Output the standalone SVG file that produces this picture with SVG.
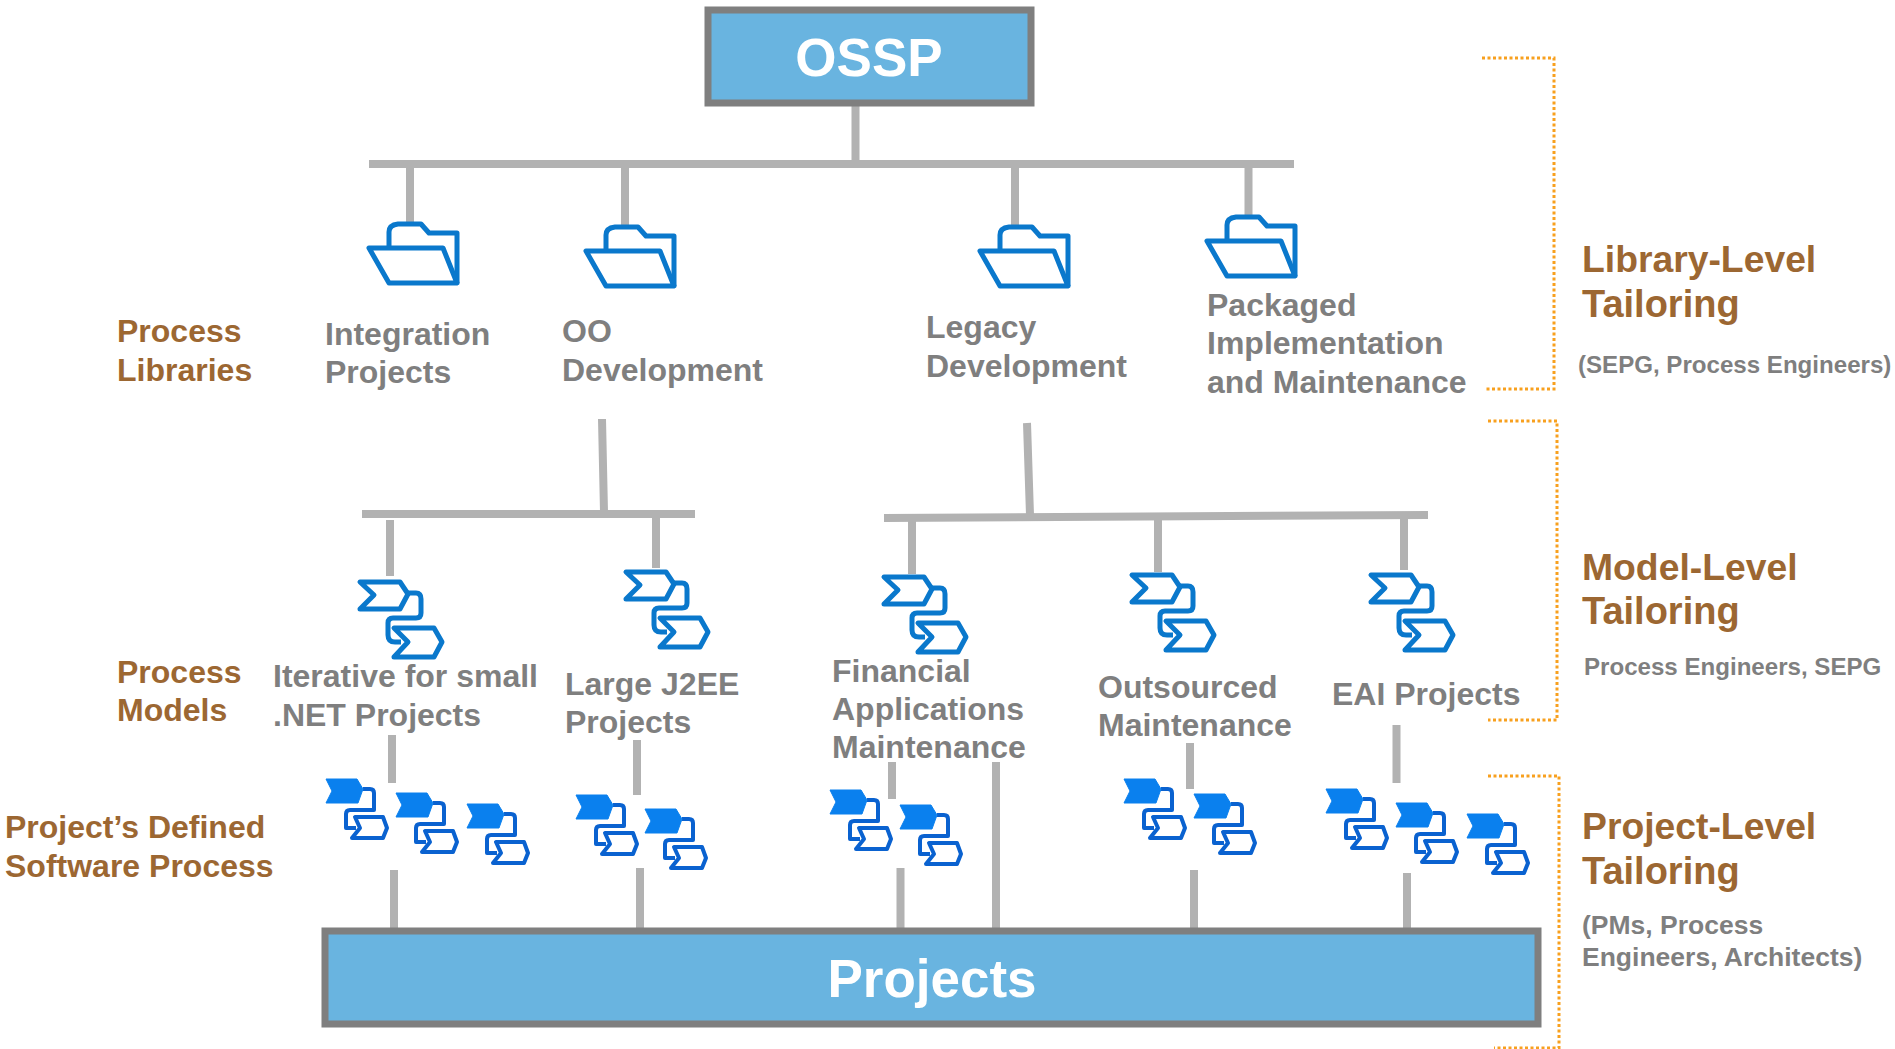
<svg xmlns="http://www.w3.org/2000/svg" xmlns:xlink="http://www.w3.org/1999/xlink" width="1895" height="1049" viewBox="0 0 1895 1049">
<style>
text{font-family:"Liberation Sans",Arial,sans-serif;font-weight:700}
.g{font-size:32px;fill:#7f7f7f}
.b{font-size:32px;fill:#9c6732}
.t{font-size:37.3px;fill:#9c6732}
.t2{font-size:38px;fill:#9c6732}
.s{font-size:24.1px;fill:#7f7f7f}
.s2{font-size:26.5px;fill:#7f7f7f}
.w{font-size:53px;fill:#fff;text-anchor:middle}
.box{fill:#69b4e0;stroke:#7f7f7f;stroke-width:7}
.c{stroke:#b2b2b2;stroke-width:8;fill:none}
.d{stroke:#f8a01e;stroke-width:3;stroke-dasharray:3 2.5;fill:none}
.i{fill:#fff;stroke:#0a78cc;stroke-width:5;stroke-linejoin:round}
.n{fill:none;stroke:#0a78cc;stroke-width:5;stroke-linejoin:round}
.j{fill:#fff;stroke:#0a62d0;stroke-width:4;stroke-linejoin:round}
.m{fill:none;stroke:#0a62d0;stroke-width:4;stroke-linejoin:round}
.f{fill:#0a80ee;stroke:#0a80ee;stroke-width:1}
</style>
<defs>
<g id="folder">
<path class="n" d="M20 25V9Q20 2 29 1H52L60 10H88V60"/>
<path class="i" d="M0 25H74L88 60H20Z"/>
</g>
<g id="proc">
<path class="n" d="M48 12H56Q61 12 61 18V32Q61 37 56 37H33Q28 37 28 42V54Q28 61 35 61H41"/>
<path class="i" d="M0 1H40L48 13L40 28H0L14 14Z"/>
<path class="i" d="M34 47H74L82 61L74 76H34L48 61Z"/>
</g>
<g id="small">
<path class="m" d="M37 10H44Q48 10 48 14V31H24Q20 31 20 35V49H30"/>
<path class="f" d="M0 0H31L37 10L32 24H0L6 12Z"/>
<path class="j" d="M29 38H57L61 49L57 59H26L34 49Z"/>
</g>
</defs>
<g id="connectors">
<path class="c" d="M855.5 105V164M369 164H1294M410 164V223M625 164V226M1015 164V226M1248.500 164V216"/>
<path class="c" d="M602 419L604 512M1027 423L1030 515M362 514H695M884 518L1428 515"/>
<path class="c" d="M390 520V576M656 514V568M912 518V574M1158 517V572M1404 516V570"/>
<path class="c" d="M392 735V783M637 740V795M892 762V799M1190 743V789M1396.500 725V783"/>
<path class="c" d="M394 870V928M640 868V928M900.500 868V928M996 762V928M1194 870V928M1407 873V928"/>
</g>
<g id="brackets">
<path class="d" d="M1482 58H1554V389H1484"/>
<path class="d" d="M1488 421H1557V720H1488"/>
<path class="d" d="M1488 776H1559V1048H1494"/>
</g>
<g id="ossp"><rect class="box" x="708" y="10" width="323" height="93"/><text class="w" x="869" y="76">OSSP</text></g>
<g id="projects"><rect class="box" x="325" y="931" width="1213" height="93"/><text class="w" x="932" y="997">Projects</text></g>
<g id="lib-integration"><use xlink:href="#folder" href="#folder" x="369" y="223"/><text class="g" x="325" y="345">Integration</text><text class="g" x="325" y="383">Projects</text></g>
<g id="lib-oo"><use xlink:href="#folder" href="#folder" x="586" y="226"/><text class="g" x="562" y="342">OO</text><text class="g" x="562" y="381">Development</text></g>
<g id="lib-legacy"><use xlink:href="#folder" href="#folder" x="980" y="226"/><text class="g" x="926" y="338">Legacy</text><text class="g" x="926" y="377">Development</text></g>
<g id="lib-packaged"><use xlink:href="#folder" href="#folder" x="1207" y="216"/><text class="g" x="1207" y="316">Packaged</text><text class="g" x="1207" y="354">Implementation</text><text class="g" x="1207" y="393">and Maintenance</text></g>
<g id="model-iterative"><use xlink:href="#proc" href="#proc" x="360" y="581"/><text class="g" x="273" y="687">Iterative for small</text><text class="g" x="273" y="726">.NET Projects</text></g>
<g id="model-j2ee"><use xlink:href="#proc" href="#proc" x="626" y="571"/><text class="g" x="565" y="695">Large J2EE</text><text class="g" x="565" y="733">Projects</text></g>
<g id="model-financial"><use xlink:href="#proc" href="#proc" x="884" y="576"/><text class="g" x="832" y="682">Financial</text><text class="g" x="832" y="720">Applications</text><text class="g" x="832" y="758">Maintenance</text></g>
<g id="model-outsourced"><use xlink:href="#proc" href="#proc" x="1132" y="574"/><text class="g" x="1098" y="698">Outsourced</text><text class="g" x="1098" y="736">Maintenance</text></g>
<g id="model-eai"><use xlink:href="#proc" href="#proc" x="1371" y="574"/><text class="g" x="1332" y="705">EAI Projects</text></g>
<g id="proj-1"><use xlink:href="#small" href="#small" x="326" y="779"/><use xlink:href="#small" href="#small" x="396" y="793"/><use xlink:href="#small" href="#small" x="467" y="804"/></g>
<g id="proj-2"><use xlink:href="#small" href="#small" x="576" y="795"/><use xlink:href="#small" href="#small" x="645" y="809"/></g>
<g id="proj-3"><use xlink:href="#small" href="#small" x="830" y="790"/><use xlink:href="#small" href="#small" x="900" y="805"/></g>
<g id="proj-4"><use xlink:href="#small" href="#small" x="1124" y="779"/><use xlink:href="#small" href="#small" x="1194" y="794"/></g>
<g id="proj-5"><use xlink:href="#small" href="#small" x="1326" y="789"/><use xlink:href="#small" href="#small" x="1396" y="803"/><use xlink:href="#small" href="#small" x="1467" y="814"/></g>
<g id="labels">
<text class="b" x="117" y="342">Process</text><text class="b" x="117" y="381">Libraries</text>
<text class="b" x="117" y="683">Process</text><text class="b" x="117" y="721">Models</text>
<text class="b" x="5" y="838">Project’s Defined</text><text class="b" x="5" y="877">Software Process</text>
<text class="t" x="1582" y="272">Library-Level</text><text class="t2" x="1582" y="317">Tailoring</text>
<text class="s" x="1578" y="373">(SEPG, Process Engineers)</text>
<text class="t" x="1582" y="580">Model-Level</text><text class="t2" x="1582" y="624">Tailoring</text>
<text class="s" x="1584" y="675">Process Engineers, SEPG</text>
<text class="t" x="1582" y="839">Project-Level</text><text class="t2" x="1582" y="884">Tailoring</text>
<text class="s2" x="1582" y="934">(PMs, Process</text><text class="s2" x="1582" y="966">Engineers, Architects)</text>
</g>
</svg>
